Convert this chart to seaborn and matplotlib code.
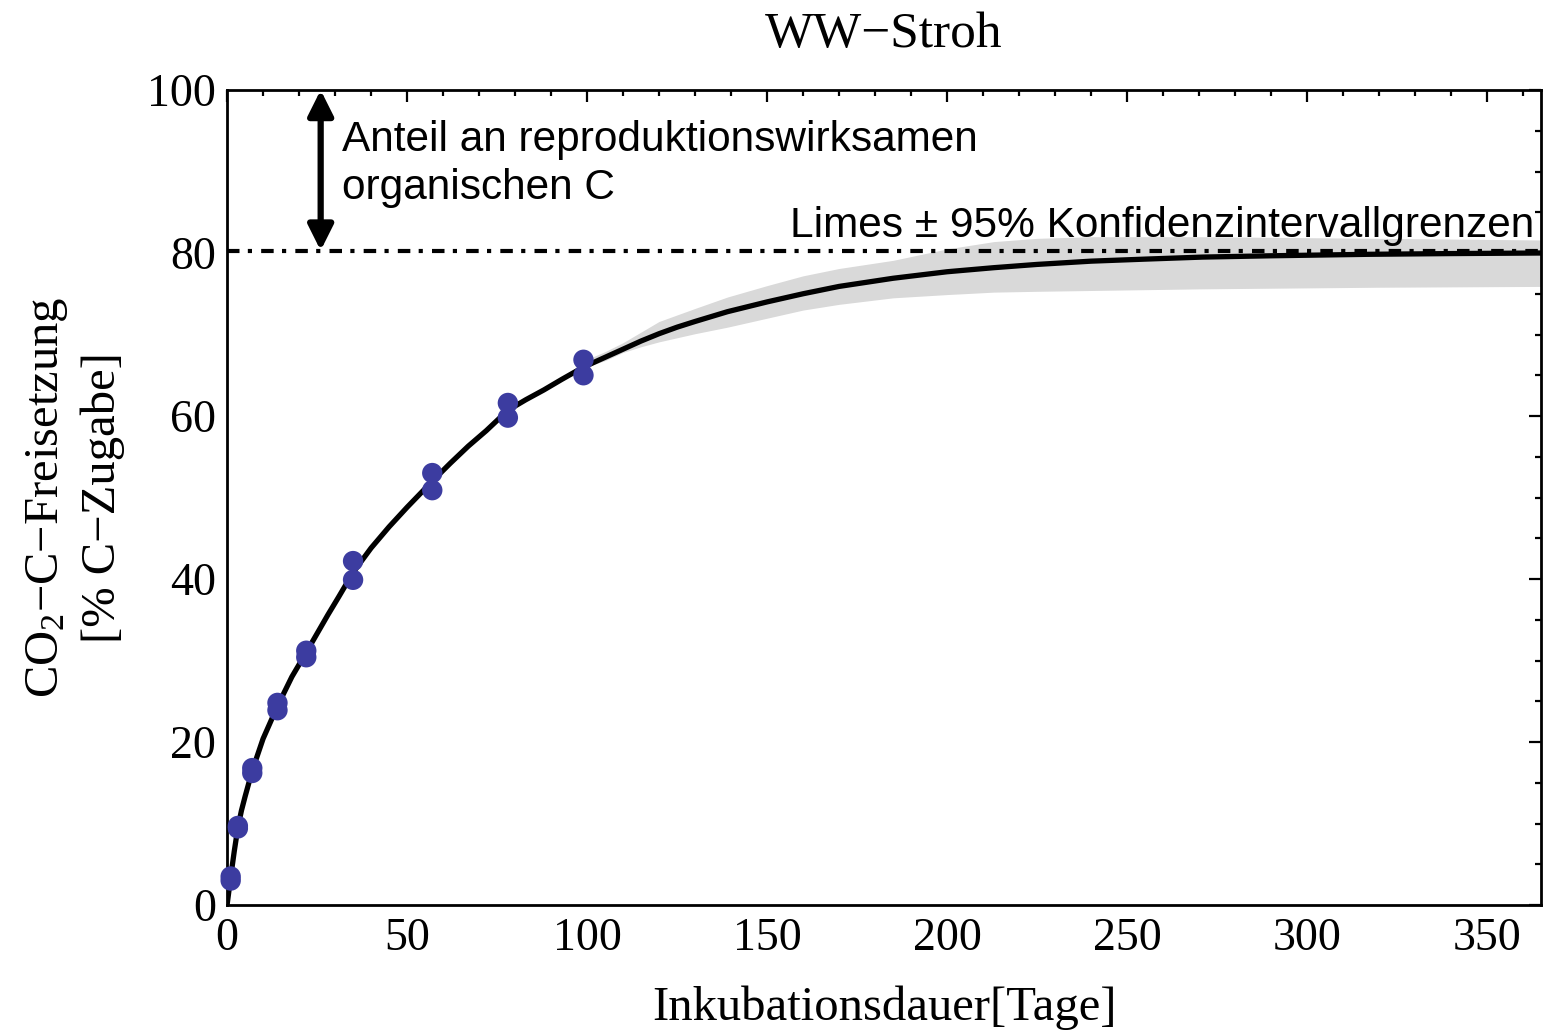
import numpy as np
import pandas as pd
import matplotlib
matplotlib.use("Agg")
import matplotlib.pyplot as plt
import seaborn as sns
from matplotlib.ticker import MultipleLocator

# ---- data ----
obs_days = [1, 1, 3, 3, 7, 7, 14, 14, 22, 22, 35, 35, 57, 57, 78, 78, 99, 99]
obs_vals = [3.0, 3.5, 9.4, 9.7, 16.2, 16.8, 23.9, 24.8, 30.4, 31.2, 39.9, 42.2,
            50.9, 53.0, 59.8, 61.6, 65.0, 66.9]

curve_t = [0, 1, 2, 3, 4, 5, 7, 10, 12, 14, 18, 22, 25, 28, 31, 35, 40, 45,
           50, 57, 62, 67, 72, 78, 83, 88, 93, 99, 105, 110, 115, 120, 125,
           130, 139, 150, 160, 170, 185, 200, 213, 225, 240, 255, 271, 290,
           317, 340, 365]
curve_y = [0, 3.4, 6.6, 9.5, 11.6, 13.3, 16.5, 20.4, 22.4, 24.4, 28.0, 31.0,
           33.3, 35.6, 37.8, 40.8, 43.8, 46.4, 48.8, 52.0, 54.2, 56.3, 58.2,
           60.7, 62.0, 63.2, 64.5, 66.0, 67.2, 68.2, 69.2, 70.1, 70.9, 71.6,
           72.8, 74.0, 75.0, 75.9, 76.9, 77.7, 78.2, 78.6, 79.0, 79.25, 79.5,
           79.66, 79.84, 79.93, 80.0]

band_t = [97, 105, 110, 115, 120, 130, 139, 150, 160, 170, 185, 200, 213,
          225, 240, 270, 320, 365]
band_lo = [65.6, 66.8, 67.8, 68.5, 69.1, 70.1, 70.9, 72.0, 73.0, 73.7, 74.5,
           74.9, 75.2, 75.3, 75.4, 75.6, 75.8, 75.9]
band_hi = [66.4, 67.9, 69.0, 70.3, 71.6, 73.2, 74.6, 76.0, 77.2, 78.1, 79.1,
           80.5, 81.4, 81.8, 82.0, 82.0, 81.8, 81.6]

limes = 80.3
arrow_x = 26

title = "WW\u2212Stroh"
xlabel = "Inkubationsdauer[Tage]"
ylabel = "CO$_2$\u2212C\u2212Freisetzung\n[% C\u2212Zugabe]"
note1 = "Anteil an reproduktionswirksamen\norganischen C"
note2 = "Limes \u00b1 95% Konfidenzintervallgrenzen"

xticks = [0, 50, 100, 150, 200, 250, 300, 350]
yticks = [0, 20, 40, 60, 80, 100]

# ---- style ----
sns.set_style("white")
plt.rcParams["font.family"] = ["Liberation Serif", "DejaVu Serif"]
plt.rcParams["mathtext.fontset"] = "custom"
plt.rcParams["mathtext.rm"] = "Liberation Serif"
plt.rcParams["mathtext.it"] = "Liberation Serif:italic"
plt.rcParams["text.color"] = "black"
plt.rcParams["axes.labelcolor"] = "black"

fig = plt.figure(figsize=(15.51, 10.31), dpi=100)
ax = fig.add_axes([0.1464, 0.1222, 0.8472, 0.7905])

obs_df = pd.DataFrame({"day": obs_days, "val": obs_vals})
curve_df = pd.DataFrame({"t": curve_t, "y": curve_y})

ax.fill_between(band_t, band_lo, band_hi, color="#d9d9d9", lw=0, zorder=1)
ax.axhline(limes, color="black", lw=3.0, linestyle=(0, (3.0, 2.0, 1.0, 2.2)), zorder=2)
sns.lineplot(data=curve_df, x="t", y="y", ax=ax, color="black", lw=3.8,
             sort=True, estimator=None, zorder=3)
sns.scatterplot(data=obs_df, x="day", y="val", ax=ax, color="#3c3ca0", s=215,
                edgecolor="none", zorder=4, clip_on=False)

ax.set_xlim(0, 365)
ax.set_ylim(0, 100)
ax.xaxis.set_major_locator(MultipleLocator(50))
ax.xaxis.set_minor_locator(MultipleLocator(10))
ax.yaxis.set_major_locator(MultipleLocator(20))
ax.yaxis.set_minor_locator(MultipleLocator(5))
ax.set_xticks(xticks)
ax.set_yticks(yticks)
ax.set_xticklabels([str(v) for v in xticks])
ax.set_yticklabels([str(v) for v in yticks])
ax.tick_params(which="both", direction="in", top=True, right=True,
               colors="black", width=1.6)
ax.tick_params(which="major", length=8.5, labelsize=33)
ax.tick_params(axis="y", which="major", pad=8)
ax.tick_params(axis="x", which="major", pad=9)
ax.tick_params(which="minor", length=4.3)
for s in ax.spines.values():
    s.set_linewidth(2.0)
    s.set_color("black")

ax.set_xlabel(xlabel, fontsize=35, labelpad=18)
ax.set_ylabel(ylabel, fontsize=35, labelpad=16, linespacing=1.3)
ax.set_title(title, fontsize=37, pad=31)

ax.annotate("", xy=(arrow_x, 100), xytext=(arrow_x, limes),
            arrowprops=dict(arrowstyle="<|-|>", color="black", lw=4.5,
                            mutation_scale=38, shrinkA=0, shrinkB=0),
            annotation_clip=False, zorder=6)
ax.text(32, 96.3, note1, fontsize=30.5, family=["Liberation Sans", "DejaVu Sans"],
        va="top", ha="left", linespacing=1.25, zorder=6)
ax.text(156.4, 82.0, note2, fontsize=30.5, family=["Liberation Sans", "DejaVu Sans"],
        va="baseline", ha="left", zorder=6, clip_on=False)

fig.savefig("out.png", dpi=100)
